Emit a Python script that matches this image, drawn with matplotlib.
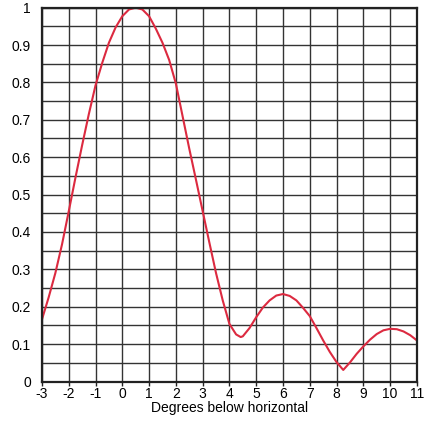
import numpy as np
import matplotlib
matplotlib.use("Agg")
from matplotlib import pyplot as plt

plt.rcParams['font.family'] = ['Liberation Sans', 'DejaVu Sans']

# values
degrees = [-3.0, -2.75, -2.5, -2.25, -2.0, -1.75, -1.5, -1.25, -1.0, -0.75,
           -0.5, -0.25, 0.0, 0.25, 0.5, 0.75, 1.0, 1.25, 1.5, 1.75,
           2.0, 2.25, 2.5, 2.75, 3.0, 3.25, 3.5, 3.75, 4.0, 4.25,
           4.42, 4.5, 4.75, 5.0, 5.25, 5.5, 5.75, 6.0, 6.25, 6.5,
           6.75, 7.0, 7.25, 7.5, 7.75, 8.0, 8.25, 8.5, 8.75, 9.0,
           9.25, 9.5, 9.75, 10.0, 10.25, 10.5, 10.75, 11.0]
intensity = [0.166, 0.225, 0.290, 0.367, 0.455, 0.545, 0.632, 0.715, 0.792, 0.852,
             0.906, 0.947, 0.977, 0.995, 1.000, 0.995, 0.977, 0.944, 0.906, 0.860,
             0.797, 0.710, 0.623, 0.540, 0.456, 0.372, 0.290, 0.217, 0.154, 0.126,
             0.119, 0.121, 0.143, 0.172, 0.198, 0.217, 0.230, 0.234, 0.229, 0.217,
             0.197, 0.175, 0.143, 0.110, 0.079, 0.052, 0.031, 0.051, 0.074, 0.094,
             0.112, 0.127, 0.137, 0.141, 0.140, 0.134, 0.124, 0.110]

x_ticks = list(range(-3, 12))
y_ticks = [0, 0.1, 0.2, 0.3, 0.4, 0.5, 0.6, 0.7, 0.8, 0.9, 1]
y_labels = ['0', '0.1', '0.2', '0.3', '0.4', '0.5', '0.6', '0.7', '0.8', '0.9', '1']

fig = plt.figure(figsize=(4.37, 4.23), dpi=100)
ax = fig.add_axes([0.096, 0.098, 0.858, 0.884])

# grid: every degree, every 0.05
for xv in x_ticks:
    ax.axvline(xv, color='#333333', lw=1.0, zorder=1)
for yv in np.arange(0, 1.0001, 0.05):
    ax.axhline(yv, color='#333333', lw=1.0, zorder=1)

ax.plot(degrees, intensity, color='#dc2a40', lw=1.5, zorder=3,
        solid_joinstyle='round')

ax.set_xlim(-3, 11)
ax.set_ylim(0, 1)
ax.set_xticks(x_ticks)
ax.set_xticklabels([str(v) for v in x_ticks])
ax.set_yticks(y_ticks)
ax.set_yticklabels(y_labels)
ax.tick_params(axis='x', length=3, width=1, pad=1, labelsize=10, color='#222222')
ax.tick_params(axis='y', length=0, pad=8, labelsize=10)
ax.set_xlabel("Degrees below horizontal", fontsize=10, labelpad=0)

for s in ax.spines.values():
    s.set_color('#222222')
    s.set_linewidth(1.6)
    s.set_zorder(4)

fig.savefig("out.png", dpi=100)
